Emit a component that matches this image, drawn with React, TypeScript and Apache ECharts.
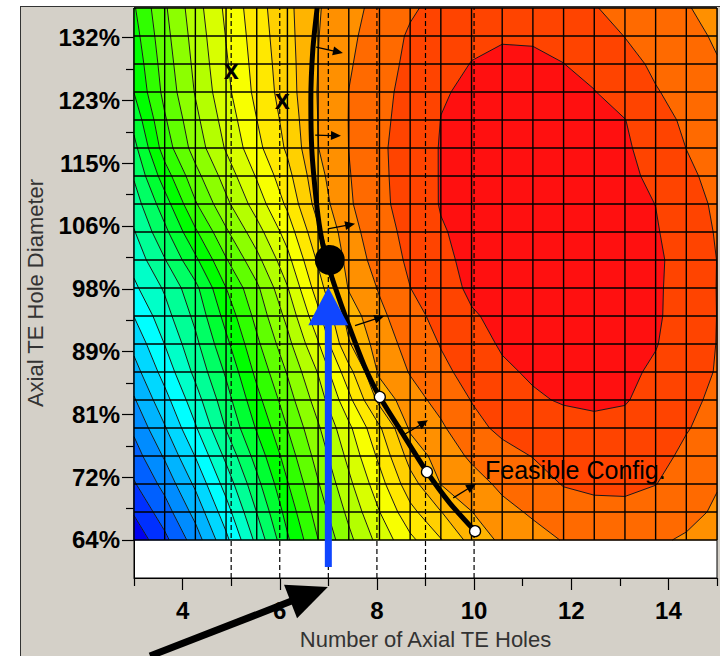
import { useEffect, useRef } from 'react';
import * as echarts from 'echarts';

const FONT = "'Liberation Sans', Arial, Helvetica, sans-serif";

// ---------- axes ----------
const xRange = [3, 15];
const yRange = [58.857, 136];
const xMajorTicks = [4, 6, 8, 10, 12, 14];
const xMinorTicks = [3, 5, 7, 9, 11, 13, 15];
const yMajorTicks = [64, 72.5, 81, 89.5, 98, 106.5, 115, 123.5, 132];
const yTickLabels = ['64%', '72%', '81%', '89%', '98%', '106%', '115%', '123%', '132%'];
const yMinorTicks = [68.25, 76.75, 85.25, 93.75, 102.25, 110.75, 119.25, 127.75];

// ---------- response-surface mesh (20 x 20 nodes) ----------
const meshX = [3, 3.6316, 4.2632, 4.8947, 5.5263, 6.1579, 6.7895, 7.4211, 8.0526, 8.6842,
  9.3158, 9.9474, 10.5789, 11.2105, 11.8421, 12.4737, 13.1053, 13.7368, 14.3684, 15];
const meshY = [64, 67.7895, 71.5789, 75.3684, 79.1579, 82.9474, 86.7368, 90.5263, 94.3158, 98.1053,
  101.8947, 105.6842, 109.4737, 113.2632, 117.0526, 120.8421, 124.6316, 128.4211, 132.2105, 136];

// node values (contour level units), one row per meshY value, bottom to top
const z00 = [0.3, 1.74, 3.49, 5.74, 8.29, 10.85, 12.99, 14.74, 16.35, 17.77, 18.94, 20.36, 21.21, 21.65, 22.05, 22.2, 22.3, 22.12, 21.9, 21.7];
const z01 = [1.1, 2.54, 4.34, 6.57, 9.02, 11.39, 13.46, 15.25, 16.98, 18.69, 19.97, 20.98, 21.71, 22.13, 22.55, 22.7, 22.75, 22.57, 22.25, 21.88];
const z02 = [1.9, 3.33, 5.19, 7.4, 9.7, 11.93, 13.93, 15.76, 17.6, 19.6, 21.02, 21.6, 22.2, 22.6, 23.05, 23.2, 23.2, 23.02, 22.6, 22.05];
const z03 = [2.55, 4.12, 6.04, 8.23, 10.4, 12.47, 14.4, 16.27, 18.23, 20.38, 21.43, 22.16, 22.7, 23.03, 23.35, 23.49, 23.48, 23.26, 22.83, 22.38];
const z04 = [3.2, 4.91, 6.89, 9.06, 11.1, 13.01, 14.87, 16.78, 18.86, 21.15, 21.85, 22.72, 23.2, 23.45, 23.65, 23.78, 23.75, 23.5, 23.05, 22.7];
const z05 = [3.9, 5.65, 7.57, 9.6, 11.68, 13.55, 15.47, 17.71, 20.3, 21.61, 22.31, 23.03, 23.53, 23.88, 24.08, 24.15, 24.06, 23.68, 23.2, 22.83];
const z06 = [4.6, 6.39, 8.25, 10.14, 12.26, 14.08, 16.06, 18.64, 21.18, 22.06, 22.77, 23.34, 23.85, 24.12, 24.28, 24.3, 24.2, 23.85, 23.35, 22.95];
const z07 = [5.3, 7.02, 8.75, 10.75, 12.79, 14.68, 16.9, 19.9, 21.48, 22.35, 23.05, 23.63, 24.1, 24.25, 24.38, 24.39, 24.28, 24.05, 23.48, 22.98];
const z08 = [6.02, 7.61, 9.25, 11.35, 13.31, 15.28, 17.73, 20.45, 21.77, 22.64, 23.33, 23.92, 24.2, 24.38, 24.48, 24.47, 24.35, 24.12, 23.6, 22.99];
const z09 = [6.8, 8.13, 9.74, 11.99, 13.8, 15.94, 18.52, 21.08, 22.09, 22.99, 23.64, 24.15, 24.35, 24.5, 24.55, 24.5, 24.35, 24.12, 23.65, 22.98];
const z10 = [7.37, 8.94, 10.79, 12.91, 14.69, 16.69, 19.16, 21.41, 22.39, 23.18, 23.8, 24.22, 24.42, 24.55, 24.6, 24.55, 24.42, 24.17, 23.6, 22.99];
const z11 = [7.93, 9.74, 11.84, 13.84, 15.58, 17.44, 19.8, 21.64, 22.57, 23.31, 23.93, 24.24, 24.41, 24.53, 24.55, 24.49, 24.35, 24.08, 23.49, 22.93];
const z12 = [8.5, 10.55, 12.89, 14.76, 16.47, 18.19, 20.44, 21.87, 22.75, 23.44, 24.05, 24.25, 24.4, 24.5, 24.5, 24.42, 24.28, 23.99, 23.37, 22.85];
const z13 = [9.1, 11.51, 13.66, 15.43, 17.09, 18.68, 20.71, 21.94, 22.79, 23.46, 24.05, 24.23, 24.36, 24.45, 24.44, 24.36, 24.2, 23.81, 23.18, 22.73];
const z14 = [9.7, 12.47, 14.43, 16.1, 17.71, 19.16, 20.98, 22.01, 22.82, 23.47, 24.05, 24.2, 24.32, 24.4, 24.38, 24.3, 24.12, 23.63, 22.99, 22.6];
const z15 = [10.35, 12.88, 14.75, 16.42, 17.99, 19.35, 21.02, 22.02, 22.76, 23.4, 24.01, 24.15, 24.25, 24.3, 24.25, 24.17, 24.02, 23.35, 22.84, 22.45];
const z16 = [11.02, 13.29, 15.07, 16.73, 18.27, 19.53, 21.06, 22.01, 22.7, 23.33, 23.95, 24.1, 24.18, 24.2, 24.12, 24.03, 23.59, 23.06, 22.68, 22.3];
const z17 = [11.3, 13.48, 15.24, 16.89, 18.38, 19.6, 21.01, 21.9, 22.59, 23.22, 23.75, 24.02, 24.12, 24.12, 24.01, 23.72, 23.3, 22.84, 22.46, 22.05];
const z18 = [11.6, 13.67, 15.4, 17.04, 18.49, 19.68, 20.97, 21.79, 22.48, 23.12, 23.55, 23.85, 23.95, 23.93, 23.75, 23.4, 22.98, 22.62, 22.24, 21.9];
const z19 = [11.9, 13.86, 15.57, 17.2, 18.6, 19.75, 20.92, 21.68, 22.31, 22.87, 23.3, 23.55, 23.72, 23.7, 23.5, 23.05, 22.7, 22.35, 22.05, 21.75];
const field = [z00, z01, z02, z03, z04, z05, z06, z07, z08, z09, z10, z11, z12, z13, z14, z15, z16, z17, z18, z19];

// band colours, lowest level first
const bandColors = [
  '#0000f0', '#0030ff', '#0060ff', '#008cff', '#00b4ff', '#00d8ff', '#00ffff', '#00ffc8',
  '#00ff96', '#00ff64', '#00ff32', '#00ff00', '#30ff00', '#60ff00', '#8cff00', '#b4ff00',
  '#d8ff00', '#f8ff00', '#ffe800', '#ffd000', '#ffb400', '#ff9000', '#ff6a00', '#ff4400', '#ff1010',
];

// ---------- overlays ----------
const dashedX = [5, 6, 7, 8, 9, 10];
const constraintX = [6.77, 6.68, 6.64, 6.66, 6.75, 6.83, 6.95, 7.16, 7.38, 7.76, 8.06, 8.48, 9.03, 9.5, 10.02];
const constraintY = [136.0, 130.3, 123.5, 116.8, 110.0, 105.95, 102.16, 97.83, 93.77, 87.28, 83.35, 78.9, 73.2, 69.0, 65.2];
const feasibleX = [8.06, 9.03, 10.02];
const feasibleY = [83.35, 73.2, 65.2];
const baselineX = [7.03];
const baselineY = [101.9];
const normalTailX = [6.75, 6.73, 6.99, 7.55, 8.52, 9.57];
const normalTailY = [130.7, 118.8, 106.1, 93.0, 78.1, 69.7];
const normalHeadX = [7.3, 7.26, 7.55, 8.15, 9.05, 10.04];
const normalHeadY = [129.9, 118.7, 106.8, 94.3, 80.2, 71.6];
const infeasibleX = [5.0, 6.05];
const infeasibleY = [127.6, 123.5];
const blueArrowX = [7];
const blueArrowFromY = [60.35];
const blueArrowToY = [98.2];
const blackArrowFrom = [3.33, 48.3];
const blackArrowTo = [6.99, 57.64];
const noteText = 'Feasible Config.';
const noteX = [10.225];
const noteY = [73.5];

function clipPoly(poly: number[][], level: number, keepAbove: boolean) {
  const out: number[][] = [];
  const n = poly.length;
  for (let k = 0; k < n; k++) {
    const a = poly[k];
    const b = poly[(k + 1) % n];
    const ina = keepAbove ? a[2] >= level : a[2] <= level;
    const inb = keepAbove ? b[2] >= level : b[2] <= level;
    if (ina) out.push(a);
    if (ina !== inb) {
      const t = (level - a[2]) / (b[2] - a[2]);
      out.push([a[0] + t * (b[0] - a[0]), a[1] + t * (b[1] - a[1]), level]);
    }
  }
  return out;
}

function cellQuad(i: number, j: number) {
  return [
    [meshX[i], meshY[j], field[j][i]],
    [meshX[i + 1], meshY[j], field[j][i + 1]],
    [meshX[i + 1], meshY[j + 1], field[j + 1][i + 1]],
    [meshX[i], meshY[j + 1], field[j + 1][i]],
  ];
}

function arrowShape(p1: number[], p2: number[], headLen: number, headHalf: number, width: number, color: string) {
  const dx = p2[0] - p1[0];
  const dy = p2[1] - p1[1];
  const L = Math.hypot(dx, dy) || 1;
  const ux = dx / L;
  const uy = dy / L;
  const bx = p2[0] - ux * headLen;
  const by = p2[1] - uy * headLen;
  return {
    type: 'group',
    children: [
      { type: 'line', shape: { x1: p1[0], y1: p1[1], x2: bx + ux * 1, y2: by + uy * 1 }, style: { stroke: color, lineWidth: width } },
      {
        type: 'polygon',
        shape: { points: [[p2[0], p2[1]], [bx - uy * headHalf, by + ux * headHalf], [bx + uy * headHalf, by - ux * headHalf]] },
        style: { fill: color },
      },
    ],
  };
}

export default function App() {
  const ref = useRef<HTMLDivElement>(null);

  useEffect(() => {
    if (!ref.current) return;
    const chart = echarts.init(ref.current, null, { renderer: 'svg' });

    const cells: number[][] = [];
    for (let j = 0; j < meshY.length - 1; j++) {
      for (let i = 0; i < meshX.length - 1; i++) {
        cells.push([(meshX[i] + meshX[i + 1]) / 2, (meshY[j] + meshY[j + 1]) / 2, i, j]);
      }
    }

    const axisFontBold = { fontFamily: FONT, fontSize: 24, fontWeight: 'bold', color: '#000' };

    const option: any = {
      animation: false,
      backgroundColor: 'transparent',
      grid: {
        left: 134, right: 3, top: 8, bottom: 78,
        show: true, backgroundColor: '#ffffff', borderColor: '#000', borderWidth: 1,
        outerBoundsMode: 'none',
      },
      xAxis: [
        {
          type: 'value', min: xRange[0], max: xRange[1], position: 'bottom',
          axisLine: { show: true, onZero: false, lineStyle: { color: '#000', width: 1 } },
          axisTick: { show: true, customValues: xMajorTicks, length: 12, lineStyle: { color: '#000', width: 1.2 } },
          axisLabel: { customValues: xMajorTicks, margin: 20, ...axisFontBold },
          splitLine: { show: false },
          name: 'Number of Axial TE Holes', nameLocation: 'middle', nameGap: 50,
          nameTextStyle: { fontFamily: FONT, fontSize: 22, color: '#333' },
        },
        {
          type: 'value', min: xRange[0], max: xRange[1], position: 'bottom',
          axisLine: { show: false },
          axisTick: { show: true, customValues: xMinorTicks, length: 8, lineStyle: { color: '#000', width: 1.2 } },
          axisLabel: { show: false },
          splitLine: { show: false },
        },
      ],
      yAxis: [
        {
          type: 'value', min: yRange[0], max: yRange[1], position: 'left',
          axisLine: { show: true, onZero: false, lineStyle: { color: '#000', width: 1 } },
          axisTick: { show: true, customValues: yMajorTicks, length: 12, lineStyle: { color: '#000', width: 1.2 } },
          axisLabel: {
            customValues: yMajorTicks, margin: 14, ...axisFontBold,
            formatter: (v: number) => {
              const k = yMajorTicks.findIndex((t) => Math.abs(t - v) < 1e-6);
              return k >= 0 ? yTickLabels[k] : '';
            },
          },
          splitLine: { show: false },
          name: 'Axial TE Hole Diameter', nameLocation: 'middle', nameGap: 88, nameRotate: 90,
          nameTextStyle: { fontFamily: FONT, fontSize: 22, color: '#333' },
        },
        {
          type: 'value', min: yRange[0], max: yRange[1], position: 'left',
          axisLine: { show: false },
          axisTick: { show: true, customValues: yMinorTicks, length: 8, lineStyle: { color: '#000', width: 1.2 } },
          axisLabel: { show: false },
          splitLine: { show: false },
        },
      ],
      series: [
        {
          type: 'custom', name: 'bands', z: 1, silent: true,
          data: cells,
          renderItem: (_p: any, api: any) => {
            const i = api.value(2);
            const j = api.value(3);
            const quad = cellQuad(i, j);
            const vs = quad.map((q) => q[2]);
            const mn = Math.min(...vs);
            const mx = Math.max(...vs);
            const children: any[] = [];
            for (let k = Math.floor(mn); k <= Math.floor(mx); k++) {
              let poly = quad;
              if (k > mn) poly = clipPoly(poly, k, true);
              if (poly.length >= 3 && k + 1 < mx) poly = clipPoly(poly, k + 1, false);
              if (poly.length < 3) continue;
              const color = bandColors[Math.max(0, Math.min(bandColors.length - 1, k))];
              children.push({
                type: 'polygon',
                shape: { points: poly.map((q) => api.coord([q[0], q[1]])) },
                style: { fill: color, stroke: color, lineWidth: 0.6 },
              });
            }
            return { type: 'group', children };
          },
        },
        {
          type: 'custom', name: 'contours', z: 2, silent: true,
          data: cells,
          renderItem: (_p: any, api: any) => {
            const i = api.value(2);
            const j = api.value(3);
            const quad = cellQuad(i, j);
            const vs = quad.map((q) => q[2]);
            const mn = Math.min(...vs);
            const mx = Math.max(...vs);
            const children: any[] = [];
            for (let L = Math.ceil(mn); L <= mx; L++) {
              const pts: number[][] = [];
              for (let e = 0; e < 4; e++) {
                const a = quad[e];
                const b = quad[(e + 1) % 4];
                if ((a[2] >= L) !== (b[2] >= L)) {
                  const t = (L - a[2]) / (b[2] - a[2]);
                  pts.push(api.coord([a[0] + t * (b[0] - a[0]), a[1] + t * (b[1] - a[1])]));
                }
              }
              for (let s = 0; s + 1 < pts.length; s += 2) {
                children.push({
                  type: 'line',
                  shape: { x1: pts[s][0], y1: pts[s][1], x2: pts[s + 1][0], y2: pts[s + 1][1] },
                  style: { stroke: '#1a1a1a', lineWidth: 1 },
                });
              }
            }
            return { type: 'group', children };
          },
        },
        {
          type: 'custom', name: 'mesh', z: 3, silent: true,
          data: [[meshX[0], meshY[0]]],
          renderItem: (_p: any, api: any) => {
            const children: any[] = [];
            const x0 = meshX[0];
            const x1 = meshX[meshX.length - 1];
            const y0 = meshY[0];
            const y1 = meshY[meshY.length - 1];
            meshX.forEach((x) => {
              const a = api.coord([x, y0]);
              const b = api.coord([x, y1]);
              children.push({ type: 'line', shape: { x1: a[0], y1: a[1], x2: b[0], y2: b[1] }, style: { stroke: '#000', lineWidth: 1.4 } });
            });
            meshY.forEach((y) => {
              const a = api.coord([x0, y]);
              const b = api.coord([x1, y]);
              children.push({ type: 'line', shape: { x1: a[0], y1: a[1], x2: b[0], y2: b[1] }, style: { stroke: '#000', lineWidth: 1.4 } });
            });
            return { type: 'group', children };
          },
        },
        {
          type: 'custom', name: 'designs', z: 4, silent: true,
          data: dashedX.map((x) => [x, yRange[0]]),
          renderItem: (_p: any, api: any) => {
            const a = api.coord([api.value(0), yRange[0]]);
            const b = api.coord([api.value(0), yRange[1]]);
            return {
              type: 'line',
              shape: { x1: a[0], y1: a[1], x2: b[0], y2: b[1] },
              style: { stroke: '#000', lineWidth: 1.2, lineDash: [5, 3] },
            };
          },
        },
        {
          type: 'line', name: 'constraint', z: 5, silent: true,
          data: constraintX.map((x, k) => [x, constraintY[k]]),
          smooth: 0.25, showSymbol: false, symbol: 'none',
          lineStyle: { color: '#000', width: 5 },
        },
        {
          type: 'custom', name: 'normals', z: 6, silent: true,
          data: normalTailX.map((x, k) => [x, normalTailY[k], normalHeadX[k], normalHeadY[k]]),
          renderItem: (_p: any, api: any) => {
            const p1 = api.coord([api.value(0), api.value(1)]);
            const p2 = api.coord([api.value(2), api.value(3)]);
            return arrowShape(p1, p2, 10, 4.5, 1.3, '#000');
          },
        },
        {
          type: 'scatter', name: 'feasible', z: 7, silent: true,
          data: feasibleX.map((x, k) => [x, feasibleY[k]]),
          symbol: 'circle', symbolSize: 11,
          itemStyle: { color: '#fff', borderColor: '#000', borderWidth: 1.3, opacity: 1 },
        },
        {
          type: 'scatter', name: 'baseline', z: 7, silent: true,
          data: baselineX.map((x, k) => [x, baselineY[k]]),
          symbol: 'circle', symbolSize: 30,
          itemStyle: { color: '#000', opacity: 1 },
        },
        {
          type: 'custom', name: 'infeasible', z: 7, silent: true,
          data: infeasibleX.map((x, k) => [x, infeasibleY[k]]),
          renderItem: (_p: any, api: any) => {
            const p = api.coord([api.value(0), api.value(1)]);
            return {
              type: 'text', x: p[0], y: p[1],
              style: { text: 'x', fontFamily: FONT, fontSize: 27, fontWeight: 'bold', fill: '#000', align: 'center', verticalAlign: 'middle' },
            };
          },
        },
        {
          type: 'custom', name: 'blueArrow', z: 8, silent: true, clip: false,
          data: blueArrowX.map((x, k) => [x, blueArrowFromY[k], x, blueArrowToY[k]]),
          renderItem: (_p: any, api: any) => {
            const p1 = api.coord([api.value(0), api.value(1)]);
            const p2 = api.coord([api.value(2), api.value(3)]);
            return arrowShape(p1, p2, 38, 20, 7, '#1046ff');
          },
        },
        {
          type: 'custom', name: 'blackArrow', z: 9, silent: true, clip: false,
          data: [[blackArrowFrom[0], blackArrowFrom[1], blackArrowTo[0], blackArrowTo[1]]],
          renderItem: (_p: any, api: any) => {
            const p1 = api.coord([api.value(0), api.value(1)]);
            const p2 = api.coord([api.value(2), api.value(3)]);
            return arrowShape(p1, p2, 40, 18, 7, '#000');
          },
        },
        {
          type: 'custom', name: 'note', z: 9, silent: true,
          data: noteX.map((x, k) => [x, noteY[k]]),
          renderItem: (_p: any, api: any) => {
            const p = api.coord([api.value(0), api.value(1)]);
            return {
              type: 'text', x: p[0], y: p[1],
              style: { text: noteText, fontFamily: FONT, fontSize: 25, fill: '#000', align: 'left', verticalAlign: 'middle' },
            };
          },
        },
      ],
    };

    chart.setOption(option);
    return () => chart.dispose();
  }, []);

  return (
    <div style={{ position: 'absolute', left: 0, top: 0, width: 720, height: 656, background: '#fff', overflow: 'hidden' }}>
      <div
        style={{
          position: 'absolute', left: 20, top: 6, width: 700, height: 650,
          background: '#d4d0c8', borderLeft: '1.5px solid #333', borderTop: '1.5px solid #333', boxSizing: 'border-box',
        }}
      />
      <div ref={ref} style={{ position: 'absolute', left: 0, top: 0, width: 720, height: 656 }} />
    </div>
  );
}
